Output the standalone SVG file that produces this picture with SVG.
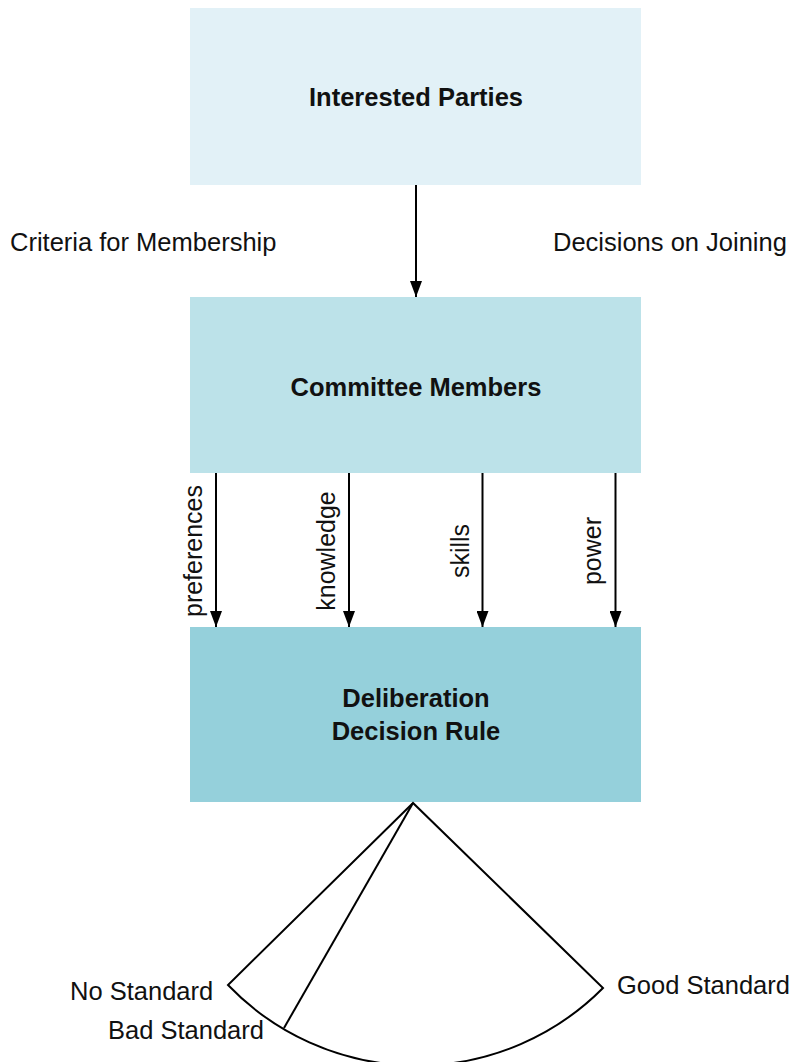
<svg xmlns="http://www.w3.org/2000/svg" width="793" height="1062" viewBox="0 0 793 1062">
<defs>
<style>
.lbl{font-family:"Liberation Sans",Arial,sans-serif;font-size:25.5px;fill:#111}
.bold{font-family:"Liberation Sans",Arial,sans-serif;font-size:25.5px;font-weight:bold;fill:#111;text-anchor:middle}
.rot{font-family:"Liberation Sans",Arial,sans-serif;font-size:25px;fill:#111;text-anchor:middle}
.conn{stroke:#000;stroke-width:2;fill:none}
</style>
<marker id="ah" viewBox="0 0 10 10" refX="10" refY="5" markerWidth="10" markerHeight="10" markerUnits="userSpaceOnUse" orient="auto">
<path d="M0,0 L10,5 L0,10 Z" fill="#000"/>
</marker>
<marker id="ahb" viewBox="0 0 16 12" refX="16" refY="6" markerWidth="16" markerHeight="12" markerUnits="userSpaceOnUse" orient="auto">
<path d="M0,0 L16,6 L0,12 Z" fill="#000"/>
</marker>
</defs>
<rect width="793" height="1062" fill="#fff"/>
<g id="interested-parties">
<rect x="190" y="8" width="451" height="177" fill="#E2F1F7"/>
<text class="bold" x="416" y="106">Interested Parties</text>
</g>
<g id="committee-members">
<rect x="190" y="297" width="451" height="176" fill="#BCE2E9"/>
<text class="bold" x="416" y="396">Committee Members</text>
</g>
<g id="deliberation">
<rect x="190" y="627" width="451" height="175" fill="#95D0DB"/>
<text class="bold" x="416" y="707">Deliberation</text>
<text class="bold" x="416" y="740">Decision Rule</text>
</g>
<g id="connectors">
<line class="conn" x1="416" y1="185" x2="416" y2="297" marker-end="url(#ahb)"/>
<line class="conn" x1="216" y1="473" x2="216" y2="627" marker-end="url(#ahb)"/>
<line class="conn" x1="349" y1="473" x2="349" y2="627" marker-end="url(#ahb)"/>
<line class="conn" x1="482.5" y1="473" x2="482.5" y2="627" marker-end="url(#ahb)"/>
<line class="conn" x1="615.5" y1="473" x2="615.5" y2="627" marker-end="url(#ahb)"/>
</g>
<g id="labels">
<text class="lbl" x="10" y="251">Criteria for Membership</text>
<text class="lbl" x="553" y="251">Decisions on Joining</text>
<text class="rot" transform="translate(202,551) rotate(-90)">preferences</text>
<text class="rot" transform="translate(335,551) rotate(-90)">knowledge</text>
<text class="rot" transform="translate(469,551) rotate(-90)">skills</text>
<text class="rot" transform="translate(601,551) rotate(-90)">power</text>
</g>
<g id="fan">
<path class="conn" d="M413,803 L228,985 A262,262 0 0 0 603,988 Z"/>
<line class="conn" x1="413" y1="803" x2="284" y2="1028"/>
<text class="lbl" x="70" y="1000">No Standard</text>
<text class="lbl" x="108" y="1039">Bad Standard</text>
<text class="lbl" x="617" y="994">Good Standard</text>
</g>
</svg>
